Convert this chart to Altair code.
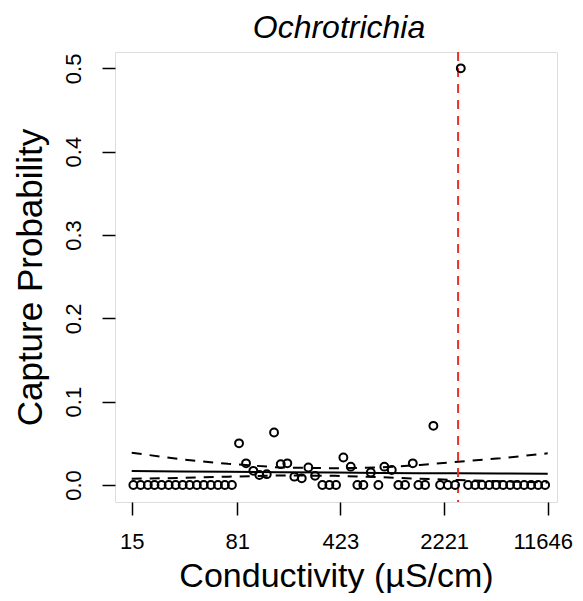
import altair as alt
import pandas as pd

# Observed capture probabilities (binned conductivity, µS/cm)
cond = [15.4, 17.3, 19.4, 21.6, 24.2, 27.1, 30.3, 33.9, 37.9, 42.5, 47.5, 53.2, 59.6, 66.6, 74.5,
        83.5, 93.4, 105, 115.6, 130.1, 146.2, 162.7, 180.8, 202.3, 227.7, 253.1, 281.7,
        316.7, 354.2, 394.2, 443.1, 498.8, 554.3, 610.2, 687, 775.7, 853.8, 961, 1068, 1189,
        1345, 1471, 1638, 1870, 2082, 2355, 2646, 2899,
        3258, 3645, 4077, 4560, 5101, 5706, 6382, 7139, 7986, 8932, 9991, 11175]
prob = [0, 0, 0, 0, 0, 0, 0, 0, 0, 0, 0, 0, 0, 0, 0,
        0.050, 0.026, 0.017, 0.012, 0.013, 0.063, 0.025, 0.026, 0.010, 0.008, 0.021, 0.011,
        0, 0, 0, 0.033, 0.022, 0, 0, 0.015, 0, 0.022, 0.018, 0, 0,
        0.026, 0, 0, 0.071, 0, 0, 0, 0.5,
        0, 0, 0, 0, 0, 0, 0, 0, 0, 0, 0, 0]

# Fitted curve and confidence band
curve_x = [15, 32.5, 70, 161, 388, 797, 1512, 2777, 5439, 11646]
fit = [0.0168, 0.0163, 0.0158, 0.0153, 0.0149, 0.0145, 0.0142, 0.0140, 0.0137, 0.0135]
upper = [0.0387, 0.031, 0.0254, 0.021, 0.020, 0.021, 0.024, 0.028, 0.032, 0.038]
lower = [0.0075, 0.0085, 0.010, 0.0115, 0.011, 0.0095, 0.0075, 0.006, 0.0045, 0.003]

threshold = [2777]

x_ticks = [15, 81, 423, 2221, 11646]
y_ticks = [0.0, 0.1, 0.2, 0.3, 0.4, 0.5]
title_text = ["Ochrotrichia"]

FONT = "Liberation Sans"

pts = pd.DataFrame({"cond": cond, "prob": prob})
cur = pd.DataFrame({"cond": curve_x, "fit": fit, "upper": upper, "lower": lower})
thr = pd.DataFrame({"cond": threshold})
ttl = pd.DataFrame({"t": title_text})

xscale = alt.Scale(type="log", domain=[11.48, 13510], nice=False)
yscale = alt.Scale(domain=[-0.0204, 0.5196], nice=False, zero=False)

xaxis = alt.Axis(values=x_ticks, format="d", title="Conductivity (µS/cm)", grid=False,
                 domain=False, tickSize=13, tickWidth=1.5, tickColor="black",
                 labelFont=FONT, labelFontSize=22, labelColor="black", labelPadding=16,
                 labelFlush=False, labelOverlap=False,
                 labelOffset={"condition": {"test": "datum.value > 10000", "value": -5}, "value": 0},
                 titleFont=FONT, titleFontSize=34, titleFontWeight="normal", titleColor="black",
                 titleBaseline="alphabetic", titleY=84)
yaxis = alt.Axis(values=y_ticks, format=".1f", title="Capture Probability", grid=False,
                 domain=False, tickSize=13, tickWidth=1.5, tickColor="black",
                 labelFont=FONT, labelFontSize=22, labelColor="black", labelAngle=-90,
                 labelPadding=17, labelFlush=False, labelOverlap=False,
                 titleFont=FONT, titleFontSize=35, titleFontWeight="normal", titleColor="black",
                 titleBaseline="alphabetic", titleX=-74, titleAngle=-90)

points = alt.Chart(pts).mark_point(shape="circle", filled=False, color="black",
                                   strokeWidth=2, size=62, opacity=1).encode(
    x=alt.X("cond:Q", scale=xscale, axis=xaxis),
    y=alt.Y("prob:Q", scale=yscale, axis=yaxis),
)

base = alt.Chart(cur)
fit_line = base.mark_line(color="black", strokeWidth=2).encode(
    x=alt.X("cond:Q", scale=xscale), y=alt.Y("fit:Q", scale=yscale))
up_line = base.mark_line(color="black", strokeWidth=2, strokeDash=[10, 8]).encode(
    x=alt.X("cond:Q", scale=xscale), y=alt.Y("upper:Q", scale=yscale))
lo_line = base.mark_line(color="black", strokeWidth=2, strokeDash=[10, 8]).encode(
    x=alt.X("cond:Q", scale=xscale), y=alt.Y("lower:Q", scale=yscale))

rule = alt.Chart(thr).mark_rule(color="#e8302a", strokeWidth=2, strokeDash=[9, 7]).encode(
    x=alt.X("cond:Q", scale=xscale))

title = alt.Chart(ttl).mark_text(font=FONT, fontSize=32, fontStyle="italic", color="black",
                                 align="center", baseline="alphabetic").encode(
    text="t:N", x=alt.value(224), y=alt.value(-14))

chart = alt.layer(fit_line, up_line, lo_line, rule, points, title).properties(
    width=442, height=450,
    autosize=alt.AutoSizeParams(type="none"),
    padding={"left": 107, "top": 44, "right": 18, "bottom": 91},
).configure_view(stroke="black", strokeWidth=2).configure(background="white")

chart.save("out.html", embed_options={"renderer": "svg", "actions": False})
